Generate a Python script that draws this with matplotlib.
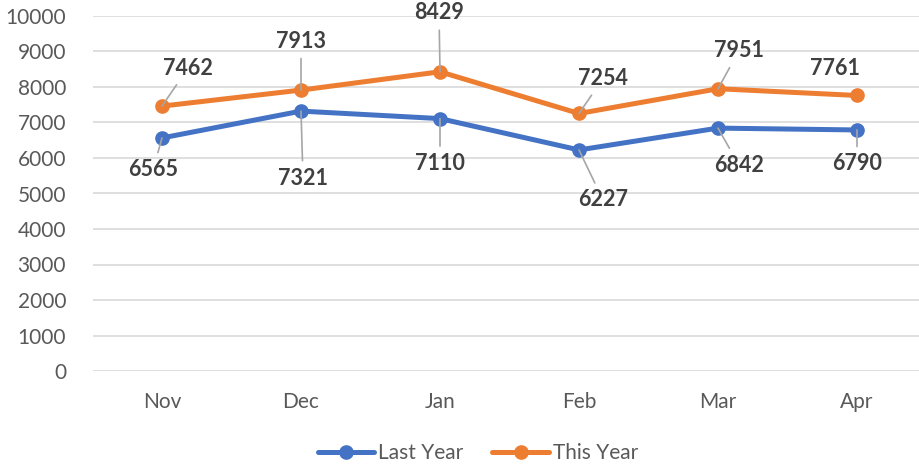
import matplotlib
matplotlib.use("Agg")
import matplotlib.pyplot as plt

months = ["Nov", "Dec", "Jan", "Feb", "Mar", "Apr"]
last_year = [6565, 7321, 7110, 6227, 6842, 6790]
this_year = [7462, 7913, 8429, 7254, 7951, 7761]
y_ticks = [0, 1000, 2000, 3000, 4000, 5000, 6000, 7000, 8000, 9000, 10000]

# label offsets in pixels (dx, dy) and whether a leader line is drawn
last_offsets = [(-9, -32), (2, -67), (0, -45), (24, -50), (21, -37), (0, -34)]
last_leader = [True, True, True, True, True, True]
this_offsets = [(26, 38), (0, 49), (-1, 59), (24, 35), (21, 38), (-22, 27)]
this_leader = [True, True, True, True, True, False]

BLUE = "#4472C4"
ORANGE = "#ED7D31"

plt.rcParams['font.family'] = ['Lato', 'DejaVu Sans']

fig = plt.figure(figsize=(9.19, 4.67), dpi=100)
W, H = 919, 467
left_px, right_px, top_px, bot_px = 92.5, 919, 16, 371
ax = fig.add_axes([left_px / W, (H - bot_px) / H, (right_px - left_px) / W, (bot_px - top_px) / H])

x = list(range(len(months)))
ax.plot(x, last_year, color=BLUE, lw=3.6, marker='o', ms=9.5, label="Last Year", zorder=3,
        solid_capstyle='round')
ax.plot(x, this_year, color=ORANGE, lw=3.6, marker='o', ms=9.5, label="This Year", zorder=3,
        solid_capstyle='round')

ax.set_ylim(0, 10000)
ax.set_xlim(-0.5, -0.5 + (right_px - left_px) / 139.0)
ax.set_yticks(y_ticks)
ax.set_yticklabels([str(v) for v in y_ticks])
ax.set_xticks(x)
ax.set_xticklabels(months)
ax.grid(axis='y', color='#D9D9D9', lw=1.2)
ax.set_axisbelow(True)
for s in ax.spines.values():
    s.set_visible(False)
ax.tick_params(axis='both', length=0, labelsize=15, labelcolor='#595959')
ax.tick_params(axis='y', pad=19)
ax.tick_params(axis='x', pad=15)


def add_labels(vals, offsets, leaders):
    for xi, v, (dx, dy), ld in zip(x, vals, offsets, leaders):
        kw = {}
        if ld:
            kw['arrowprops'] = dict(arrowstyle='-', color='#A6A6A6', lw=1.2,
                                    shrinkA=3, shrinkB=0)
        ax.annotate(str(v), xy=(xi, v), xytext=(dx, dy), textcoords='offset pixels',
                    ha='center', va='center', fontsize=15.5, fontweight='bold',
                    color='#404040', zorder=4, annotation_clip=False, **kw)


add_labels(last_year, last_offsets, last_leader)
add_labels(this_year, this_offsets, this_leader)

leg = fig.legend(loc='center', bbox_to_anchor=(0.52, (H - 453) / H), ncol=2,
                 frameon=False, fontsize=15, handlelength=2.7, columnspacing=1.4,
                 handletextpad=0.2, labelcolor='#595959')

fig.savefig("out.png", dpi=100)
